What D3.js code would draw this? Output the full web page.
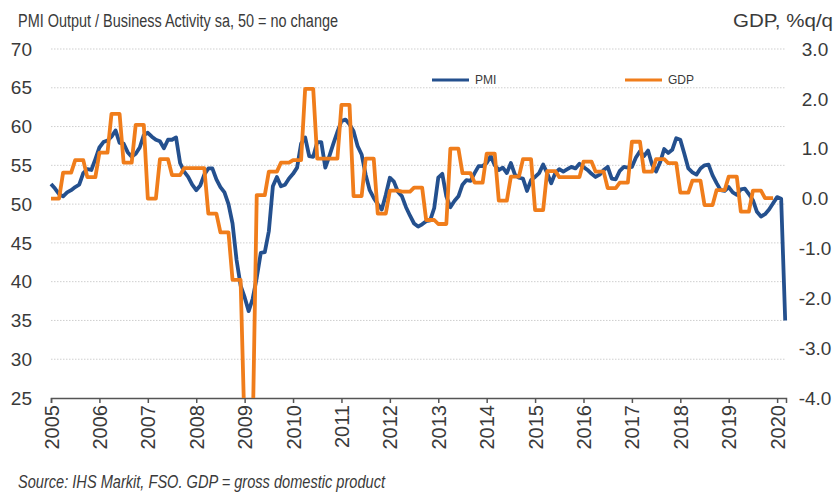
<!DOCTYPE html>
<html>
<head>
<meta charset="utf-8">
<script src="https://cdn.jsdelivr.net/npm/d3@7"></script>
<style>
  body { margin: 0; background: #fff; }
  text { font-family: "Liberation Sans Narrow", "Arial Narrow", "Liberation Sans", Arial, sans-serif; fill: #3a3a3a; }
</style>
</head>
<body>
<svg id="chart"></svg>
<script>
// PMI output / business activity, monthly Jan 2005 - Mar 2020
const pmi = [
  52.6, 52.0, 51.3, 51.0, 51.5, 51.8, 52.2, 52.5, 54.0, 54.5, 54.4, 55.8,
  57.3, 58.0, 58.2, 58.7, 59.5, 57.9, 57.8, 56.7, 56.1, 56.5, 57.3, 58.9,
  59.2, 58.7, 58.3, 58.1, 57.2, 58.3, 58.3, 58.6, 55.3, 54.2, 53.5, 52.5,
  51.8, 52.4, 53.8, 54.6, 54.6, 53.2, 52.2, 51.5, 50.0, 47.5, 42.8, 39.5,
  38.0, 36.2, 37.8, 40.5, 43.7, 43.8, 46.5, 52.3, 53.5, 52.3, 52.5, 53.3,
  53.9, 54.7, 57.8, 58.6, 56.2, 56.1, 58.0, 58.0, 54.7, 56.2, 57.8, 59.3,
  60.7, 60.9, 60.3, 59.4, 57.5, 56.4, 53.8, 51.8, 50.8, 50.0, 49.3, 51.2,
  53.4, 52.9, 51.6, 51.0, 49.6, 48.5, 47.5, 47.1, 47.4, 47.8, 47.9, 49.5,
  53.4, 53.9, 51.0, 49.6, 50.4, 51.0, 52.5, 53.1, 53.0, 54.0, 54.9, 54.9,
  55.3, 56.2, 55.0, 54.4, 54.7, 54.0, 55.3, 53.8, 53.4, 53.3, 51.7, 53.1,
  53.5, 54.0, 55.1, 54.0, 52.7, 54.0, 54.5, 54.2, 54.5, 54.8, 54.6, 55.2,
  54.8, 54.4, 53.9, 53.5, 53.8, 54.4, 54.8, 53.3, 53.2, 54.3, 54.8, 54.7,
  54.8, 56.0, 56.8, 56.2, 56.9, 55.1, 54.2, 55.4, 57.1, 56.6, 57.0, 58.5,
  58.3, 56.5, 54.6, 54.1, 53.8, 54.6, 55.0, 55.1, 53.7, 52.7, 51.8, 51.7,
  52.2, 51.5, 51.2, 51.9, 52.0, 51.3, 50.5, 49.0, 48.4, 48.7, 49.3, 50.1,
  50.9, 50.7, 35.0
];

// GDP %q/q, quarterly 2005 Q1 - 2019 Q4
const gdp = [
  0.0, 0.52, 0.77, 0.43,
  0.92, 1.7, 0.72, 1.48,
  0.0, 0.79, 0.47, 0.61,
  0.61, -0.3, -0.68, -1.63,
  -4.7, 0.07, 0.54, 0.72,
  0.77, 2.2, 0.8, 0.8,
  1.88, 0.05, 0.8, -0.3,
  0.16, 0.14, 0.22, -0.43,
  -0.51, 1.0, 0.51, 0.32,
  0.9, -0.04, 0.44, 0.79,
  -0.23, 0.55, 0.43, 0.43,
  0.74, 0.54, 0.21, 0.32,
  1.14, 0.54, 0.79, 0.71,
  0.12, 0.36, -0.13, 0.17,
  0.44, -0.26, 0.16, 0.01
];

const years = d3.range(2005, 2021);
const pmiTicks = [25, 30, 35, 40, 45, 50, 55, 60, 65, 70];
const gdpTicks = [-4, -3, -2, -1, 0, 1, 2, 3];

const width = 838;
const height = 495;
const plotLeft = 51, plotRight = 786, plotTop = 49, plotBottom = 398;

const svg = d3.select("#chart")
    .attr("width", width)
    .attr("height", height);

// month index scale (0 = Jan 2005)
const x = d3.scaleLinear().domain([0, 182.2]).range([plotLeft, plotRight]);
const yL = d3.scaleLinear().domain([25, 70]).range([plotBottom, plotTop]);
const yR = d3.scaleLinear().domain([-4, 3]).range([plotBottom, plotTop]);

svg.append("defs").append("clipPath")
    .attr("id", "plot")
  .append("rect")
    .attr("x", plotLeft - 3)
    .attr("y", 0)
    .attr("width", plotRight - plotLeft + 6)
    .attr("height", plotBottom);

// gridlines
svg.append("g")
    .selectAll("line")
    .data(pmiTicks.filter(d => d > 25))
    .enter()
    .append("line")
    .attr("x1", plotLeft)
    .attr("x2", plotRight)
    .attr("y1", d => yL(d))
    .attr("y2", d => yL(d))
    .attr("stroke", "#cfcfcf")
    .attr("stroke-width", 1)
    .attr("stroke-dasharray", "1.5,1.5");

// left axis labels
svg.append("g")
    .selectAll("text")
    .data(pmiTicks)
    .enter()
    .append("text")
    .attr("x", 32)
    .attr("y", d => yL(d))
    .attr("dy", "0.35em")
    .attr("text-anchor", "end")
    .style("font-size", "19px")
    .text(d => d);

// right axis labels
svg.append("g")
    .selectAll("text")
    .data(gdpTicks)
    .enter()
    .append("text")
    .attr("x", 815)
    .attr("y", d => yR(d))
    .attr("dy", "0.35em")
    .attr("text-anchor", "middle")
    .style("font-size", "19px")
    .text(d => d.toFixed(1));

// bottom axis
const xAxis = d3.axisBottom(x)
    .tickValues(years.map(yr => (yr - 2005) * 12))
    .tickSize(5)
    .tickFormat((d, i) => years[i]);

const gx = svg.append("g")
    .attr("transform", "translate(0," + plotBottom + ")")
    .call(xAxis);

gx.attr("font-family", null).attr("font-size", null);
gx.select(".domain").attr("stroke", "#555").attr("stroke-width", 1.5);
gx.selectAll(".tick line").attr("stroke", "#555").attr("stroke-width", 1.5);
gx.selectAll(".tick text")
    .attr("transform", "rotate(-90)")
    .attr("x", -7)
    .attr("y", 0)
    .attr("dy", "0.35em")
    .attr("text-anchor", "end")
    .style("font-size", "20px")
    .attr("fill", "#3a3a3a");

// series
const gdpMonthly = [];
gdp.forEach(v => { gdpMonthly.push(v, v, v); });

const pmiLine = d3.line()
    .x((d, i) => x(i))
    .y(d => yL(d));

const gdpLine = d3.line()
    .x((d, i) => x(i))
    .y(d => yR(d));

const plot = svg.append("g").attr("clip-path", "url(#plot)");

plot.append("path")
    .datum(pmi)
    .attr("fill", "none")
    .attr("stroke", "#24508e")
    .attr("stroke-width", 3.8)
    .attr("stroke-linejoin", "round")
    .attr("d", pmiLine);

plot.append("path")
    .datum(gdpMonthly)
    .attr("fill", "none")
    .attr("stroke", "#f07d1b")
    .attr("stroke-width", 3.8)
    .attr("stroke-linejoin", "round")
    .attr("d", gdpLine);

// legend
const legend = [
  { name: "PMI", color: "#24508e", x: 432 },
  { name: "GDP", color: "#f07d1b", x: 625 }
];
const lg = svg.append("g").selectAll("g")
    .data(legend)
    .enter()
    .append("g")
    .attr("transform", d => "translate(" + d.x + ",80)");
lg.append("line")
    .attr("x1", 0).attr("x2", 37)
    .attr("stroke", d => d.color)
    .attr("stroke-width", 3);
lg.append("text")
    .attr("x", 43)
    .attr("dy", "0.35em")
    .style("font-size", "12px")
    .text(d => d.name);

// titles (squeezed to the condensed width of the original)
svg.append("text")
    .attr("x", 18)
    .attr("y", 27)
    .attr("textLength", 320)
    .attr("lengthAdjust", "spacingAndGlyphs")
    .style("font-size", "18px")
    .text("PMI Output  / Business Activity sa, 50 = no change");

svg.append("text")
    .attr("x", 733)
    .attr("y", 27)
    .attr("textLength", 100)
    .attr("lengthAdjust", "spacingAndGlyphs")
    .style("font-size", "18px")
    .text("GDP, %q/q");

svg.append("text")
    .attr("x", 18)
    .attr("y", 488)
    .attr("textLength", 367)
    .attr("lengthAdjust", "spacingAndGlyphs")
    .style("font-size", "18px")
    .style("font-style", "italic")
    .text("Source: IHS Markit, FSO. GDP = gross domestic product");
</script>
</body>
</html>
